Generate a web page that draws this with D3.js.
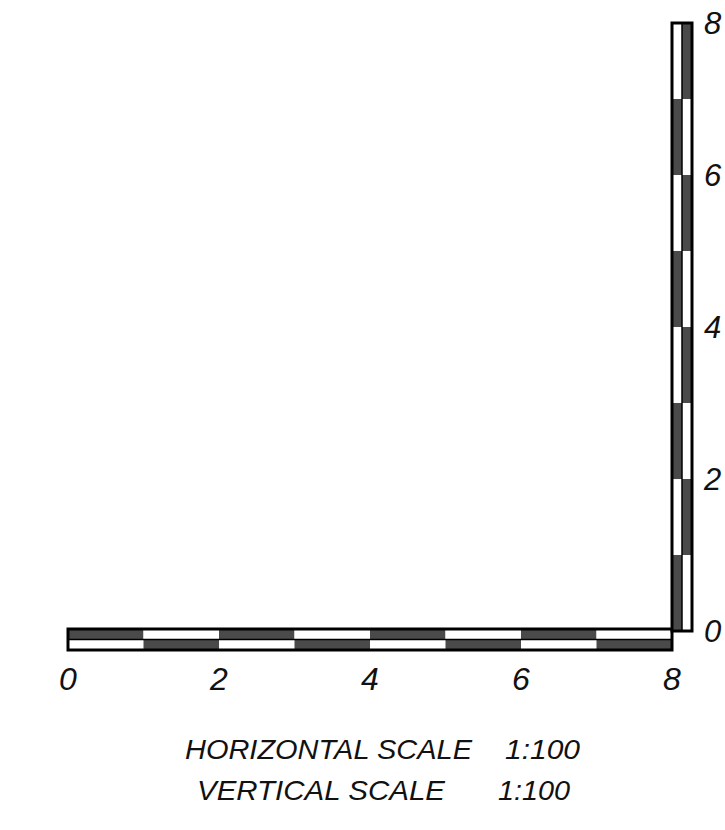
<!DOCTYPE html>
<html>
<head>
<meta charset="utf-8">
<script type="text/javascript" src="https://cdn.jsdelivr.net/npm/d3@7"></script>
<title>Scale bars</title>
<style>
  body { margin: 0; background: #fff; }
  text { font-family: "Liberation Sans", Arial, sans-serif; font-style: italic; fill: #111; }
</style>
</head>
<body>
<div id="viz"></div>
<script type="text/javascript">

// scale bar units (metres at 1:100)
var units = [0, 1, 2, 3, 4, 5, 6, 7];
var tickLabels = [0, 2, 4, 6, 8];
var captions = [
    {name: "HORIZONTAL SCALE", ratio: "1:100"},
    {name: "VERTICAL SCALE", ratio: "1:100"}
];

var W = 725, H = 830;
var svg = d3.select("#viz").append("svg")
    .attr("width", W)
    .attr("height", H);

var x = d3.scaleLinear().domain([0, 8]).range([68, 672]);
var y = d3.scaleLinear().domain([0, 8]).range([631, 23]);

var dark = "#4a4a4a";
var barTop = 629, barH = 21;   // horizontal bar
var barLeft = 672, barW = 20;  // vertical bar

// horizontal bar: two rows, checkerboard
var hb = svg.append("g");
units.forEach(function(u) {
    [0, 1].forEach(function(row) {
        var isDark = (u % 2 === 0) === (row === 0);
        hb.append("rect")
            .attr("x", x(u))
            .attr("y", barTop + row * barH / 2)
            .attr("width", x(u + 1) - x(u))
            .attr("height", barH / 2)
            .attr("fill", isDark ? dark : "#fff");
    });
});
hb.append("line")
    .attr("x1", x(0)).attr("x2", x(8))
    .attr("y1", barTop + barH / 2).attr("y2", barTop + barH / 2)
    .attr("stroke", "#000").attr("stroke-width", 1.5);
hb.append("rect")
    .attr("x", x(0)).attr("y", barTop)
    .attr("width", x(8) - x(0)).attr("height", barH)
    .attr("fill", "none").attr("stroke", "#000").attr("stroke-width", 3);

// vertical bar
var vb = svg.append("g");
units.forEach(function(u) {
    [0, 1].forEach(function(col) {
        var isDark = (u % 2 === 0) === (col === 0);
        vb.append("rect")
            .attr("x", barLeft + col * barW / 2)
            .attr("y", y(u + 1))
            .attr("width", barW / 2)
            .attr("height", y(u) - y(u + 1))
            .attr("fill", isDark ? dark : "#fff");
    });
});
vb.append("line")
    .attr("x1", barLeft + barW / 2).attr("x2", barLeft + barW / 2)
    .attr("y1", y(0)).attr("y2", y(8))
    .attr("stroke", "#000").attr("stroke-width", 1.5);
vb.append("rect")
    .attr("x", barLeft).attr("y", y(8))
    .attr("width", barW).attr("height", y(0) - y(8))
    .attr("fill", "none").attr("stroke", "#000").attr("stroke-width", 3);

// tick labels
svg.append("g").selectAll("text")
    .data(tickLabels)
    .enter().append("text")
    .attr("x", function(d) { return x(d); })
    .attr("y", 690)
    .attr("text-anchor", "middle")
    .attr("font-size", 32)
    .text(function(d) { return d; });

svg.append("g").selectAll("text")
    .data(tickLabels)
    .enter().append("text")
    .attr("x", 704)
    .attr("y", function(d) { return y(d) + 11; })
    .attr("font-size", 31)
    .text(function(d) { return d; });

// captions
var capY = [759, 800];
var capX = [[185, 472, 505, 580], [197, 445, 498, 570]];
captions.forEach(function(c, i) {
    svg.append("text")
        .attr("x", capX[i][0]).attr("y", capY[i])
        .attr("font-size", 28)
        .attr("textLength", capX[i][1] - capX[i][0])
        .attr("lengthAdjust", "spacingAndGlyphs")
        .text(c.name);
    svg.append("text")
        .attr("x", capX[i][2]).attr("y", capY[i])
        .attr("font-size", 28)
        .attr("textLength", capX[i][3] - capX[i][2])
        .attr("lengthAdjust", "spacingAndGlyphs")
        .text(c.ratio);
});

</script>
</body>
</html>
